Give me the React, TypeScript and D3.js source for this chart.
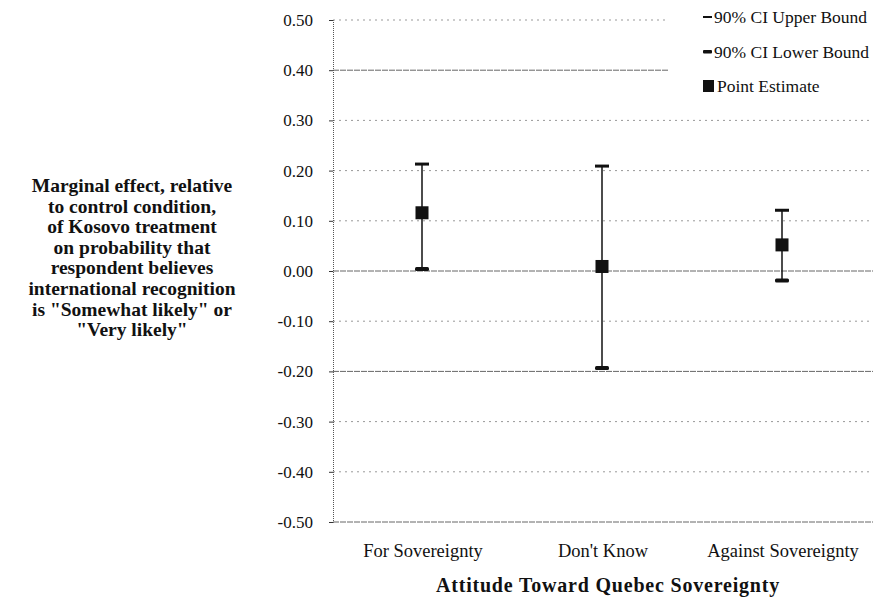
import React, { useRef, useEffect } from "react";
import * as d3 from "d3";

const categories = ["For Sovereignty", "Don't Know", "Against Sovereignty"];
const upperBound = [0.213, 0.209, 0.121];
const lowerBound = [0.004, -0.193, -0.019];
const pointEstimate = [0.116, 0.009, 0.052];
const yTicks = [0.5, 0.4, 0.3, 0.2, 0.1, 0, -0.1, -0.2, -0.3, -0.4, -0.5];
const yTitleLines = [
  "Marginal effect, relative",
  "to control condition,",
  "of Kosovo treatment",
  "on probability that",
  "respondent believes",
  "international recognition",
  'is "Somewhat likely" or',
  '"Very likely"',
];
const legendLabels = ["90% CI Upper Bound", "90% CI Lower Bound", "Point Estimate"];

const App = () => {
  const ref = useRef<SVGSVGElement>(null);

  useEffect(() => {
    const svg = d3.select(ref.current);
    svg.selectAll("*").remove();

    const margin = { top: 20, right: 4, bottom: 78, left: 333 };
    const fullWidth = 877;
    const fullHeight = 600;
    const width = fullWidth - margin.left - margin.right;
    const height = fullHeight - margin.top - margin.bottom;
    const font = "Liberation Serif, Times New Roman, Tinos, Noto Serif, DejaVu Serif, serif";

    const g = svg
      .append("g")
      .attr("transform", `translate(${margin.left},${margin.top})`);

    const y = d3.scaleLinear().domain([-0.5, 0.5]).range([height, 0]);
    const x = d3.scaleBand().domain(categories).range([0, width]).padding(0);

    const solid = [0.4, 0, -0.2, -0.5];

    // gridlines
    g.append("g")
      .selectAll("line")
      .data(yTicks)
      .enter()
      .append("line")
      .attr("x1", 0)
      .attr("x2", width)
      .attr("y1", (d) => y(d))
      .attr("y2", (d) => y(d))
      .attr("stroke", (d) => (solid.includes(d) ? "#666" : "#999"))
      .attr("stroke-width", 1)
      .attr("stroke-dasharray", (d) => (solid.includes(d) ? "6,1" : "2,4"));

    // y axis
    const yAxis = g
      .append("g")
      .call(
        d3
          .axisLeft(y)
          .tickValues(yTicks)
          .tickSize(4)
          .tickPadding(16)
          .tickFormat((d) => (d as number).toFixed(2))
      );
    yAxis.select(".domain").attr("stroke", "#555").attr("stroke-dasharray", "1,1");
    yAxis.selectAll(".tick line").attr("stroke", "#333");
    yAxis
      .selectAll("text")
      .attr("fill", "#111")
      .attr("font-family", font)
      .attr("font-size", 17);

    // category labels
    g.selectAll(".cat")
      .data(categories)
      .enter()
      .append("text")
      .attr("x", (d) => x(d)! + x.bandwidth() / 2)
      .attr("y", height + 35)
      .attr("text-anchor", "middle")
      .attr("font-family", font)
      .attr("font-size", 18.5)
      .attr("fill", "#111")
      .text((d) => d);

    const cx = (i: number) => x(categories[i])! + x.bandwidth() / 2 - 1;
    const idx = categories.map((_, i) => i);

    // error bars
    g.selectAll(".whisker")
      .data(idx)
      .enter()
      .append("line")
      .attr("x1", cx)
      .attr("x2", cx)
      .attr("y1", (i) => y(upperBound[i]))
      .attr("y2", (i) => y(lowerBound[i]))
      .attr("stroke", "#111")
      .attr("stroke-width", 1.5);

    g.selectAll(".ucap")
      .data(idx)
      .enter()
      .append("rect")
      .attr("x", (i) => cx(i) - 7)
      .attr("y", (i) => y(upperBound[i]) - 1.5)
      .attr("width", 14)
      .attr("height", 3)
      .attr("fill", "#111");

    g.selectAll(".lcap")
      .data(idx)
      .enter()
      .append("rect")
      .attr("x", (i) => cx(i) - 7)
      .attr("y", (i) => y(lowerBound[i]) - 2)
      .attr("width", 14)
      .attr("height", 4)
      .attr("rx", 1.5)
      .attr("fill", "#111");

    g.selectAll(".pt")
      .data(idx)
      .enter()
      .append("rect")
      .attr("x", (i) => cx(i) - 6.5)
      .attr("y", (i) => y(pointEstimate[i]) - 6.5)
      .attr("width", 13)
      .attr("height", 13)
      .attr("fill", "#111");

    // legend
    const lg = svg.append("g").attr("transform", "translate(668,0)");
    lg.append("rect").attr("x", 0).attr("y", 0).attr("width", 209).attr("height", 102).attr("fill", "white");
    legendLabels.forEach((label, i) => {
      const ly = 17 + i * 34.5;
      if (i === 0) {
        lg.append("rect").attr("x", 35).attr("y", ly - 1).attr("width", 9).attr("height", 2).attr("fill", "#111");
      } else if (i === 1) {
        lg.append("rect").attr("x", 35).attr("y", ly - 1.5).attr("width", 9).attr("height", 3.5).attr("rx", 1).attr("fill", "#111");
      } else {
        lg.append("rect").attr("x", 35).attr("y", ly - 6).attr("width", 11).attr("height", 12).attr("fill", "#111");
      }
      lg.append("text")
        .attr("x", i === 2 ? 49 : 46)
        .attr("y", ly + 6)
        .attr("font-family", font)
        .attr("font-size", 17.5)
        .attr("fill", "#111")
        .text(label);
    });

    // y title
    const yt = svg
      .append("text")
      .attr("text-anchor", "middle")
      .attr("font-family", font)
      .attr("font-size", 19.5)
      .attr("font-weight", "bold")
      .attr("fill", "#111");
    yTitleLines.forEach((line, i) => {
      yt.append("tspan").attr("x", 132).attr("y", 192 + i * 20.6).text(line);
    });

    // x title
    svg
      .append("text")
      .attr("x", 608)
      .attr("y", 592)
      .attr("text-anchor", "middle")
      .attr("font-family", font)
      .attr("font-size", 20)
      .attr("font-weight", "bold")
      .attr("letter-spacing", 0.8)
      .attr("fill", "#111")
      .text("Attitude Toward Quebec Sovereignty");
  }, []);

  return (
    <div style={{ position: "absolute", left: 0, top: 0, width: 877, height: 600, background: "white" }}>
      <svg ref={ref} width={877} height={600} />
    </div>
  );
};

export default App;
